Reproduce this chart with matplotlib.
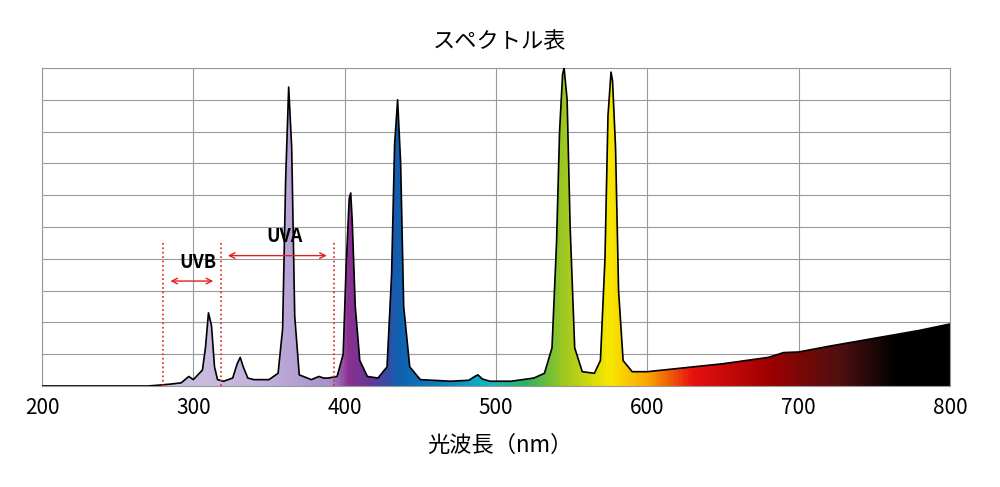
import numpy as np
import matplotlib
matplotlib.use("Agg")
import matplotlib.pyplot as plt
from matplotlib.colors import LinearSegmentedColormap
from matplotlib.patches import Polygon

plt.rcParams['font.family'] = ['Noto Sans CJK JP', 'DejaVu Sans']

wavelength = [200, 270, 278, 285, 292, 297, 300, 303, 306, 308, 310, 312, 314, 316, 320, 326, 329, 331, 333, 336, 340,
              350, 356, 359, 361, 363, 365, 367, 370, 378, 383, 386, 389, 395, 399, 401, 403, 404, 405, 407, 410, 415,
              422, 428, 431, 433, 435, 437, 439, 443, 450, 470, 482, 486, 488, 491, 496, 510, 525, 532, 537, 540, 542,
              544, 545, 547, 549, 552, 557, 565, 569, 572, 574, 576, 577, 579, 581, 584, 590, 600, 620, 650, 680, 690,
              700, 720, 750, 780, 800]
intensity = [0.0, 0.0, 0.03, 0.06, 0.1, 0.3, 0.2, 0.35, 0.5, 1.2, 2.3, 1.9, 0.6, 0.2, 0.15, 0.25, 0.7, 0.9, 0.6, 0.25, 0.2,
             0.2, 0.4, 1.8, 6.5, 9.4, 7.5, 2.2, 0.35, 0.2, 0.3, 0.25, 0.25, 0.3, 1.0, 3.8, 5.9, 6.07, 5.2, 2.5, 0.8, 0.3,
             0.25, 0.6, 3.5, 7.6, 9.0, 7.0, 2.5, 0.6, 0.2, 0.15, 0.18, 0.3, 0.35, 0.22, 0.15, 0.15, 0.25, 0.4, 1.2, 4.5, 8.0,
             9.8, 10.0, 9.0, 5.0, 1.2, 0.45, 0.4, 0.8, 4.0, 8.5, 9.87, 9.6, 7.5, 3.0, 0.8, 0.45, 0.45, 0.55, 0.7, 0.9, 1.05,
             1.07, 1.25, 1.5, 1.75, 1.95]

xticks = [200, 300, 400, 500, 600, 700, 800]

fig = plt.figure(figsize=(10, 4.87), dpi=100)
ax = fig.add_axes([0.042, 0.2074, 0.908, 0.653])
ax.set_xlim(200, 800)
ax.set_ylim(0, 10)

# colour gradient under the curve
stops = [(200, '#d8cce8'), (340, '#c4b4dc'), (390, '#a890cc'), (402, '#8a3090'), (420, '#5a3a9a'),
         (435, '#1060b0'), (470, '#1088c0'), (495, '#10b8c8'), (520, '#30b060'), (545, '#a0c820'),
         (575, '#f8e800'), (600, '#f8a800'), (630, '#e81010'), (680, '#a00000'), (730, '#4a1010'),
         (765, '#000000'), (800, '#000000')]
cmap = LinearSegmentedColormap.from_list('spec', [((w - 200) / 600, c) for w, c in stops])
grad = np.linspace(0, 1, 1200).reshape(1, -1)
im = ax.imshow(grad, cmap=cmap, extent=[200, 800, 0, 10], aspect='auto', zorder=2)
poly = Polygon(list(zip(wavelength, intensity)) + [(800, 0), (200, 0)], closed=True, transform=ax.transData)
im.set_clip_path(poly)
ax.plot(wavelength, intensity, color='black', lw=1.2, zorder=3)

ax.set_xticks(xticks)
ax.set_xticklabels([str(t) for t in xticks], fontsize=15)
ax.set_yticks(np.arange(0, 11, 1))
ax.set_yticklabels([])
ax.tick_params(length=0, pad=8)
ax.grid(True, color='#999999', lw=0.8, zorder=1)
for s in ax.spines.values():
    s.set_color('#999999')

# UV annotations
red = '#e02020'
ax.plot([280, 280], [0, 4.5], ls=':', color=red, lw=1.2, zorder=4)
ax.plot([318, 318], [0, 4.5], ls=':', color=red, lw=1.2, zorder=4)
ax.plot([393, 393], [0, 4.5], ls=':', color=red, lw=1.2, zorder=4)
ax.annotate('', xy=(283, 3.3), xytext=(315, 3.3), arrowprops=dict(arrowstyle='<->', color=red, lw=1))
ax.annotate('', xy=(321, 4.1), xytext=(390, 4.1), arrowprops=dict(arrowstyle='<->', color=red, lw=1))
ax.text(303, 3.6, 'UVB', ha='center', va='bottom', fontsize=13, fontweight='bold')
ax.text(360, 4.4, 'UVA', ha='center', va='bottom', fontsize=13, fontweight='bold')

fig.text(0.5, 0.915, 'スペクトル表', ha='center', va='center', fontsize=16)
fig.text(0.5, 0.085, '光波長（nm）', ha='center', va='center', fontsize=16)

fig.savefig('out.png', dpi=100)
